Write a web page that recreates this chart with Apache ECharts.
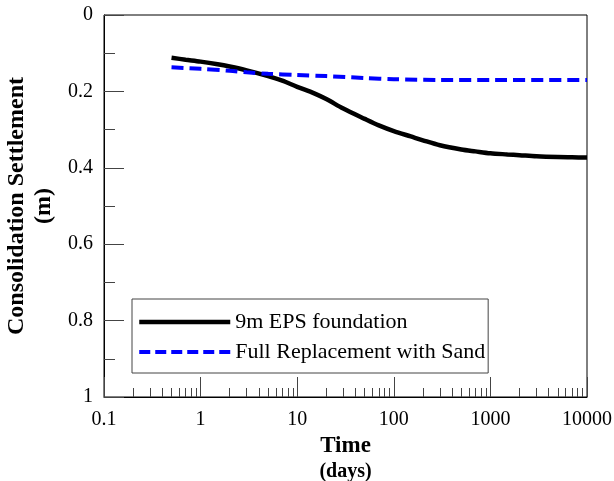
<!DOCTYPE html>
<html>
<head>
<meta charset="utf-8">
<script src="https://cdn.jsdelivr.net/npm/echarts@6/dist/echarts.min.js"></script>
<style>
  html, body { margin: 0; padding: 0; background: #fff; }
  #chart { width: 614px; height: 481px; }
</style>
</head>
<body>
<div id="chart"></div>
<script>
// Consolidation settlement over time (log time axis)
const epsTime = [0.5, 0.7, 1, 1.5, 2, 3, 5, 7, 10, 15, 20, 30, 50, 70, 100, 150, 200, 300, 500, 700, 1000, 1500, 2000, 3000, 5000, 7000, 10000];
const epsSettlement = [0.112, 0.117, 0.122, 0.129, 0.135, 0.145, 0.160, 0.172, 0.188, 0.205, 0.220, 0.245, 0.272, 0.289, 0.304, 0.318, 0.328, 0.341, 0.352, 0.357, 0.362, 0.365, 0.367, 0.370, 0.372, 0.3725, 0.373];

const sandTime = [0.5, 1, 2, 3, 5, 10, 20, 50, 100, 300, 1000, 10000];
const sandSettlement = [0.137, 0.141, 0.146, 0.150, 0.154, 0.157, 0.160, 0.165, 0.168, 0.170, 0.170, 0.170];

const seriesNames = ['9m EPS foundation', 'Full Replacement with Sand'];
const xTickLabels = [0.1, 1, 10, 100, 1000, 10000];
const xMinorTicks = [];
[0.1, 1, 10, 100, 1000].forEach(function (d) {
  for (let k = 2; k <= 9; k++) xMinorTicks.push(+(d * k).toPrecision(3));
});

const serif = '"Liberation Serif", "Times New Roman", serif';
const tickColor = '#444';
const epsColor = '#000000';
const sandColor = '#0000ff';
const sandDash = [12, 6];

const chart = echarts.init(document.getElementById('chart'), null, { renderer: 'canvas' });

chart.setOption({
  animation: false,
  backgroundColor: '#fff',
  grid: {
    left: 104, right: 27, top: 15, bottom: 84,
    containLabel: false, outerBoundsMode: 'none',
    show: true, borderColor: '#000', borderWidth: 1, backgroundColor: 'transparent'
  },
  legend: {
    orient: 'vertical',
    left: 132, top: 299,
    padding: [12, 3, 10, 5],
    itemWidth: 91, itemHeight: 16, itemGap: 8,
    borderColor: '#444', borderWidth: 1,
    backgroundColor: '#fff',
    itemStyle: { opacity: 0 },
    textStyle: { fontFamily: serif, fontSize: 22, color: '#000' },
    data: [
      { name: seriesNames[0], lineStyle: { width: 4.5, color: epsColor } },
      { name: seriesNames[1], lineStyle: { width: 4, color: sandColor, type: [11, 5] } }
    ]
  },
  xAxis: [{
    type: 'log', logBase: 10, min: 0.1, max: 10000, position: 'bottom',
    name: '{a|Time}\n{b|(days)}',
    nameLocation: 'middle', nameGap: 35,
    nameTextStyle: {
      verticalAlign: 'top',
      rich: {
        a: { fontFamily: serif, fontWeight: 'bold', fontSize: 23, lineHeight: 23, color: '#000' },
        b: { fontFamily: serif, fontWeight: 'bold', fontSize: 20, lineHeight: 27, color: '#000' }
      }
    },
    axisLine: { show: true, onZero: false, lineStyle: { color: '#000', width: 1 } },
    axisTick: { inside: true, length: 20, lineStyle: { color: tickColor } },
    axisLabel: {
      fontFamily: serif, fontSize: 20, color: '#000', margin: 13,
      customValues: xTickLabels,
      formatter: function (v) { return String(+(+v).toPrecision(6)); }
    },
    splitLine: { show: false }
  }, {
    type: 'log', logBase: 10, min: 0.1, max: 10000, position: 'bottom',
    axisLine: { show: false, onZero: false },
    axisTick: { inside: true, length: 9, customValues: xMinorTicks, lineStyle: { color: tickColor } },
    axisLabel: { show: false },
    splitLine: { show: false }
  }],
  yAxis: {
    type: 'value', inverse: true, min: 0, max: 1, interval: 0.2,
    name: 'Consolidation Settlement\n(m)',
    nameLocation: 'middle', nameRotate: 90, nameGap: 40,
    nameTextStyle: { fontFamily: serif, fontWeight: 'bold', fontSize: 24, lineHeight: 27, color: '#000' },
    axisLine: { show: true, onZero: false, lineStyle: { color: '#000', width: 1 } },
    axisTick: { inside: true, length: 20, lineStyle: { color: tickColor } },
    minorTick: { show: true, splitNumber: 2, length: 11, lineStyle: { color: tickColor } },
    axisLabel: { fontFamily: serif, fontSize: 20, color: '#000', margin: 11 },
    splitLine: { show: false }
  },
  series: [{
    name: seriesNames[0],
    type: 'line', xAxisIndex: 0,
    data: epsTime.map(function (t, i) { return [t, epsSettlement[i]]; }),
    showSymbol: false, symbol: 'none', smooth: 0.3,
    color: epsColor,
    lineStyle: { color: epsColor, width: 4.5 }
  }, {
    name: seriesNames[1],
    type: 'line', xAxisIndex: 0,
    data: sandTime.map(function (t, i) { return [t, sandSettlement[i]]; }),
    showSymbol: false, symbol: 'none', smooth: 0.3,
    color: sandColor,
    lineStyle: { color: sandColor, width: 4, type: sandDash }
  }]
});
</script>
</body>
</html>
